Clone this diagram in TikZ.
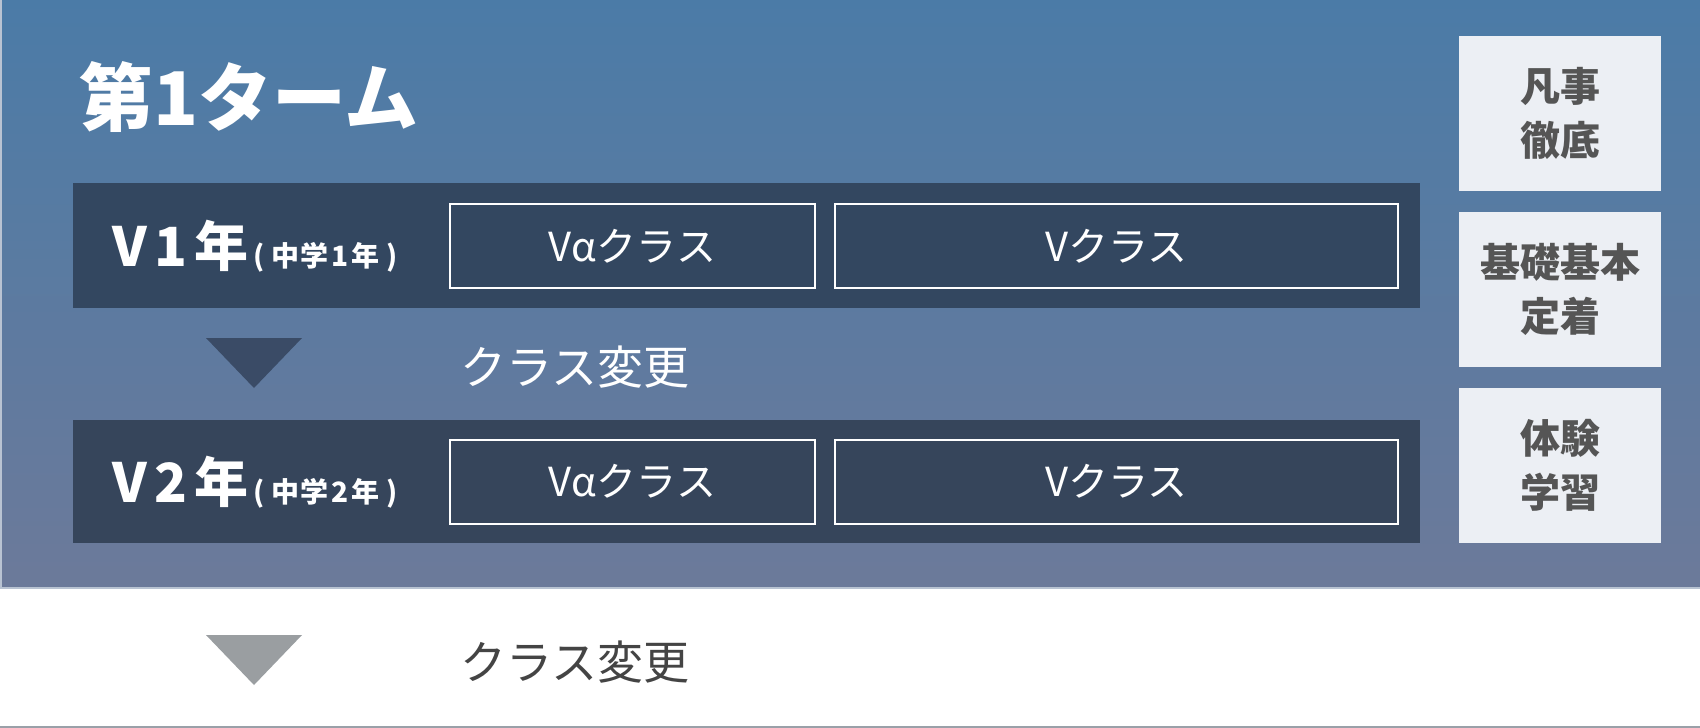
\documentclass[tikz,border=0pt]{standalone}
\usepackage{fontspec}
\setmainfont{Noto Sans CJK JP}
\definecolor{topc}{HTML}{4B7BA7}
\definecolor{botc}{HTML}{6C7A9A}
\definecolor{barone}{HTML}{334760}
\definecolor{bartwo}{HTML}{36455B}
\definecolor{trione}{HTML}{3A4B66}
\definecolor{tritwo}{HTML}{9A9EA1}
\definecolor{sidefill}{HTML}{ECEFF4}
\definecolor{sidetext}{HTML}{555555}
\definecolor{lowtext}{HTML}{444444}
\definecolor{edgec}{HTML}{B9C3D2}
\definecolor{bottomline}{HTML}{9AA0A8}
\newcommand{\yearlab}[1]{\fontsize{54}{54}\selectfont V\hspace{8pt}#1\hspace{7pt}年\fontsize{28}{28}\selectfont\hspace{5pt}(\hspace{6pt}中\hspace{2pt}学\hspace{2pt}#1\hspace{3pt}年\hspace{7pt})}
\tikzset{
  bar/.style={rectangle, inner sep=0pt, minimum width=1347pt},
  classbox/.style={rectangle, draw=white, line width=2pt, inner sep=0pt, minimum height=84pt, text=white, font=\fontsize{40}{40}\selectfont},
  sidebox/.style={rectangle, fill=sidefill, inner sep=0pt, minimum width=202pt, minimum height=155pt, text=sidetext, align=center, font=\fontsize{40}{54}\selectfont\bfseries},
  yearlabel/.style={anchor=base west, inner sep=0pt, text=white, font=\bfseries},
  changelabel/.style={anchor=west, inner sep=0pt, font=\fontsize{46}{46}\selectfont},
}
\begin{document}
\begin{tikzpicture}[x=1pt,y=-1pt]
\useasboundingbox (0,0) rectangle (1700,728);
\fill[white] (0,0) rectangle (1700,728);
\shade[top color=topc, bottom color=botc] (0,0) rectangle (1700,588);
\draw[edgec, line width=1.5pt] (0.75,0) -- (0.75,588);
\draw[edgec, line width=1.5pt] (0,588) -- (1700,588);
\draw[bottomline, line width=1.5pt] (0,727) -- (1700,727);

% title
\node[anchor=base west, inner sep=0pt, text=white, font=\fontsize{74}{74}\selectfont\bfseries] (title) at (79,125) {第1ターム};

% bars
\node[bar, fill=barone, minimum height=125pt] (bar1) at (746.5,245.5) {};
\node[bar, fill=bartwo, minimum height=123pt] (bar2) at (746.5,481.5) {};

% year labels
\node[yearlabel] (y1) at (112,266) {\yearlab{1}};
\node[yearlabel] (y2) at (112,502) {\yearlab{2}};

% class boxes
\node[classbox, minimum width=365pt] (a1) at (632.5,246) {Vαクラス};
\node[classbox, minimum width=563pt] (b1) at (1116.5,246) {Vクラス};
\node[classbox, minimum width=365pt] (a2) at (632.5,481.5) {Vαクラス};
\node[classbox, minimum width=563pt] (b2) at (1116.5,481.5) {Vクラス};

% triangles
\fill[trione] (206,338) -- (302,338) -- (254,388) -- cycle;
\fill[tritwo] (206,635) -- (302,635) -- (254,685) -- cycle;

% change labels
\node[changelabel, text=white] (c1) at (460,367) {クラス変更};
\node[changelabel, text=lowtext] (c2) at (460,662) {クラス変更};

% side boxes
\node[sidebox] (s1) at (1560,113.5) {凡事\\徹底};
\node[sidebox] (s2) at (1560,289.5) {基礎基本\\定着};
\node[sidebox] (s3) at (1560,465) {体験\\学習};
\end{tikzpicture}
\end{document}
